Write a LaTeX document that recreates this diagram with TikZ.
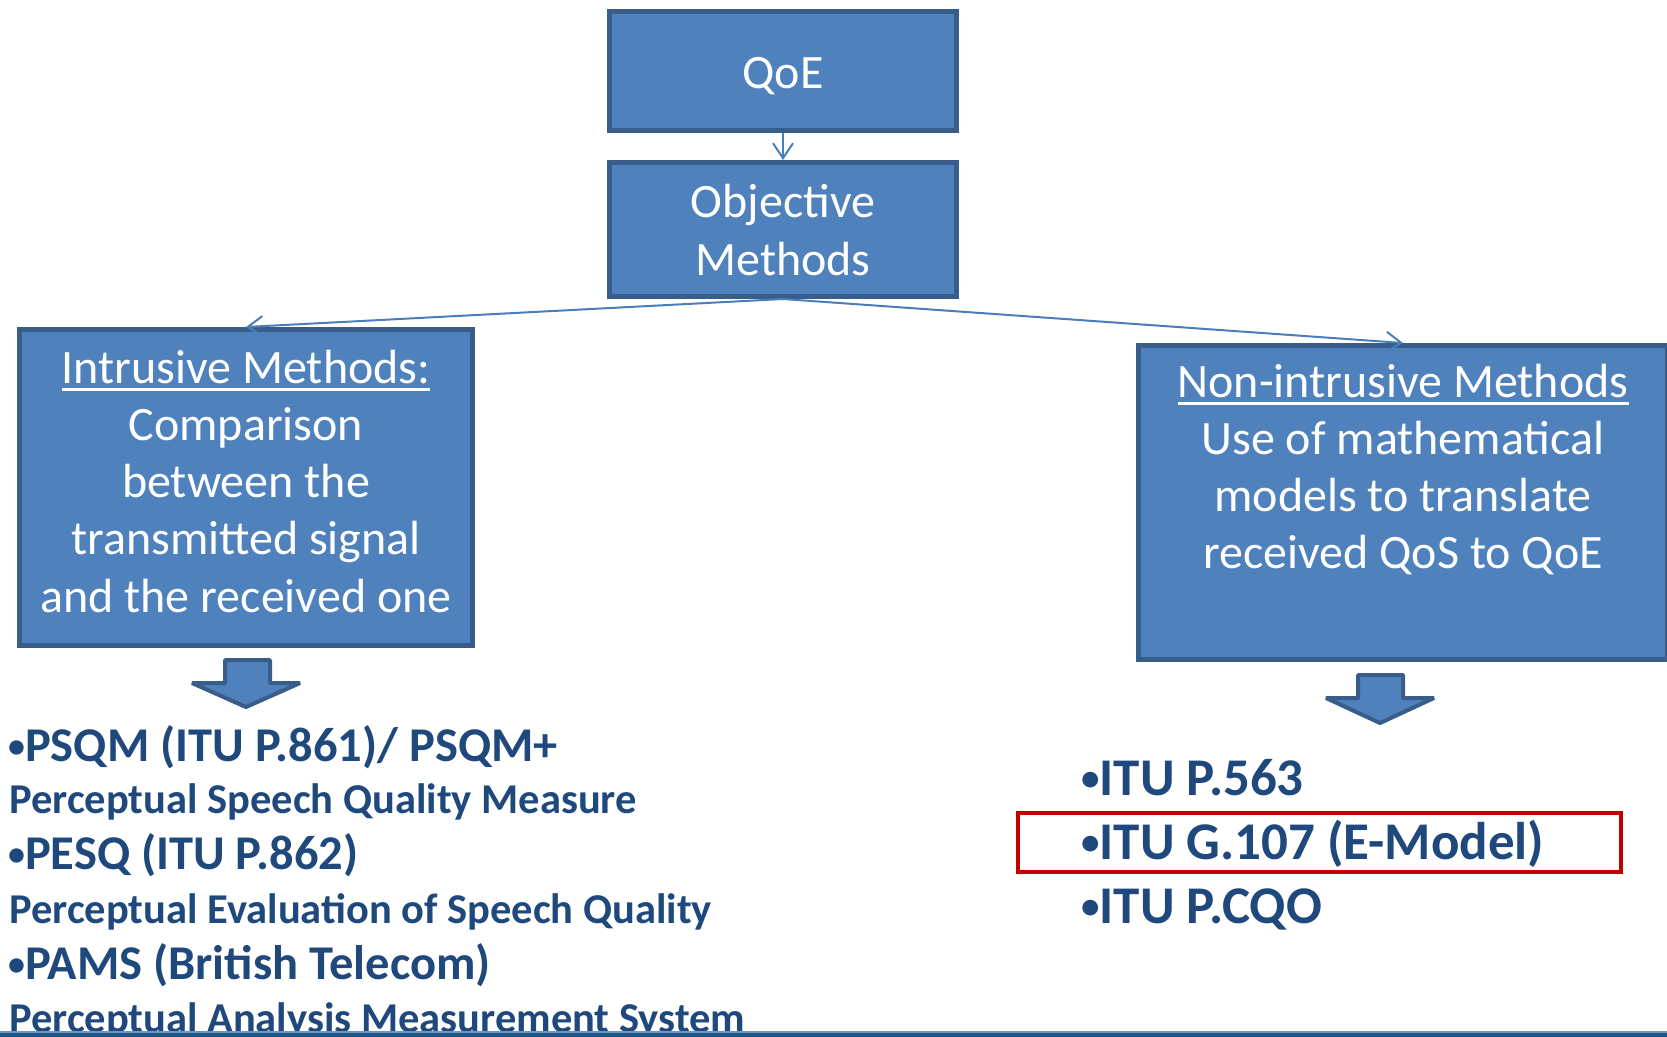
\documentclass[tikz,border=0pt]{standalone}
\usepackage{fontspec}
\usepackage{graphicx}
\setmainfont{Carlito}
\usetikzlibrary{arrows.meta}

\definecolor{boxfill}{HTML}{4F81BD}
\definecolor{boxline}{HTML}{385D8A}
\definecolor{connblue}{HTML}{4A7EBB}
\definecolor{listblue}{HTML}{1F497D}
\definecolor{hilite}{HTML}{C00000}
\definecolor{rulebar}{HTML}{1B5689}
\definecolor{ruleedge}{HTML}{6E96BE}

% underline drawn as a rule, so its depth and weight can be set
\newlength\ulw
\newcommand\ulined[1]{\settowidth\ulw{#1}\rlap{\rule[-8pt]{\ulw}{3pt}}#1}
% struts fixing the height of the first line and depth of the last one
\newcommand\firststrut[1]{\rule{0pt}{#1}}
\newcommand\laststrut[1]{\rule[-#1]{0pt}{#1}}
% small list bullet
\newcommand\bul{\raisebox{0.08em}{\scalebox{0.7}{•}}}

\begin{document}
\begin{tikzpicture}[x=1pt,y=-1pt,
  methodbox/.style={draw=boxline, fill=boxfill, line width=5pt, text=white,
    align=center, inner sep=0pt, font=\fontsize{48}{57.3}\selectfont},
  conn/.style={draw=connblue, line width=2pt,
    -{Straight Barb[length=15pt,width=20pt]}},
  blockarrow/.style={draw=boxline, fill=boxfill, line width=4pt, line join=bevel},
  listmain/.style={anchor=base west, inner sep=0pt, text=listblue,
    font=\bfseries\fontsize{48.5}{54}\selectfont},
  listsub/.style={anchor=base west, inner sep=0pt, text=listblue,
    font=\bfseries\fontsize{42.5}{48}\selectfont},
  rightitem/.style={anchor=base west, inner sep=0pt, text=listblue,
    font=\bfseries\fontsize{53}{60}\selectfont},
  selbox/.style={draw=hilite, line width=4pt, inner sep=0pt}
]
\useasboundingbox (0,0) rectangle (1667,1036);

% boxes
\node[methodbox, minimum width=347pt, minimum height=119pt] (qoe) at (783,71)
  {\firststrut{48pt}QoE\laststrut{13pt}};
\node[methodbox, minimum width=347pt, minimum height=134pt] (obj) at (783,229.5)
  {\firststrut{48pt}Objective\\Methods\laststrut{14pt}};
\node[methodbox, minimum width=453pt, minimum height=316pt] (intr) at (246,487.5)
  {\firststrut{40pt}\ulined{Intrusive Methods:}\\Comparison\\between the\\transmitted signal\\and the received one\laststrut{19.8pt}};
\node[methodbox, minimum width=529pt, minimum height=314pt] (nonintr) at (1403,502.5)
  {\firststrut{40pt}\ulined{Non-intrusive Methods}\\Use of mathematical\\models to translate\\received QoS to QoE\laststrut{79pt}};

% connectors
\draw[conn] (qoe.south) -- (obj.north);
\draw[conn] (obj.south) -- (intr.north);
\draw[conn] (obj.south) -- (nonintr.north);

% block arrows
\draw[blockarrow] (225,660) -- (270,660) -- (270,683) -- (300,683) -- (246,707)
  -- (192,683) -- (225,683) -- cycle;
\draw[blockarrow] (1358,675) -- (1403,675) -- (1403,698) -- (1434,698) -- (1380,723)
  -- (1326,698) -- (1358,698) -- cycle;

% intrusive methods list
\node[listmain] (l1) at (8,761)  {\bul PSQM (ITU P.861)/ PSQM+};
\node[listsub]  (l2) at (9,813)  {Perceptual Speech Quality Measure};
\node[listmain] (l3) at (8,869)  {\bul PESQ (ITU P.862)};
\node[listsub]  (l4) at (9,923)  {Perceptual Evaluation of Speech Quality};
\node[listmain] (l5) at (8,979)  {\bul PAMS (British Telecom)};
\node[listsub]  (l6) at (9,1032) {Perceptual Analysis Measurement System};

% non-intrusive methods list
\node[rightitem] (r1) at (1081,795) {\bul ITU P.563};
\node[rightitem] (r2) at (1081,859) {\bul ITU G.107 (E-Model)};
\node[rightitem] (r3) at (1081,923) {\bul ITU P.CQO};
\node[selbox, minimum width=603pt, minimum height=59pt] (sel) at (1319.5,842.5) {};

% bottom rule
\fill[ruleedge] (0,1031) rectangle (1667,1032.5);
\fill[rulebar] (0,1032.5) rectangle (1667,1037);
\end{tikzpicture}
\end{document}
